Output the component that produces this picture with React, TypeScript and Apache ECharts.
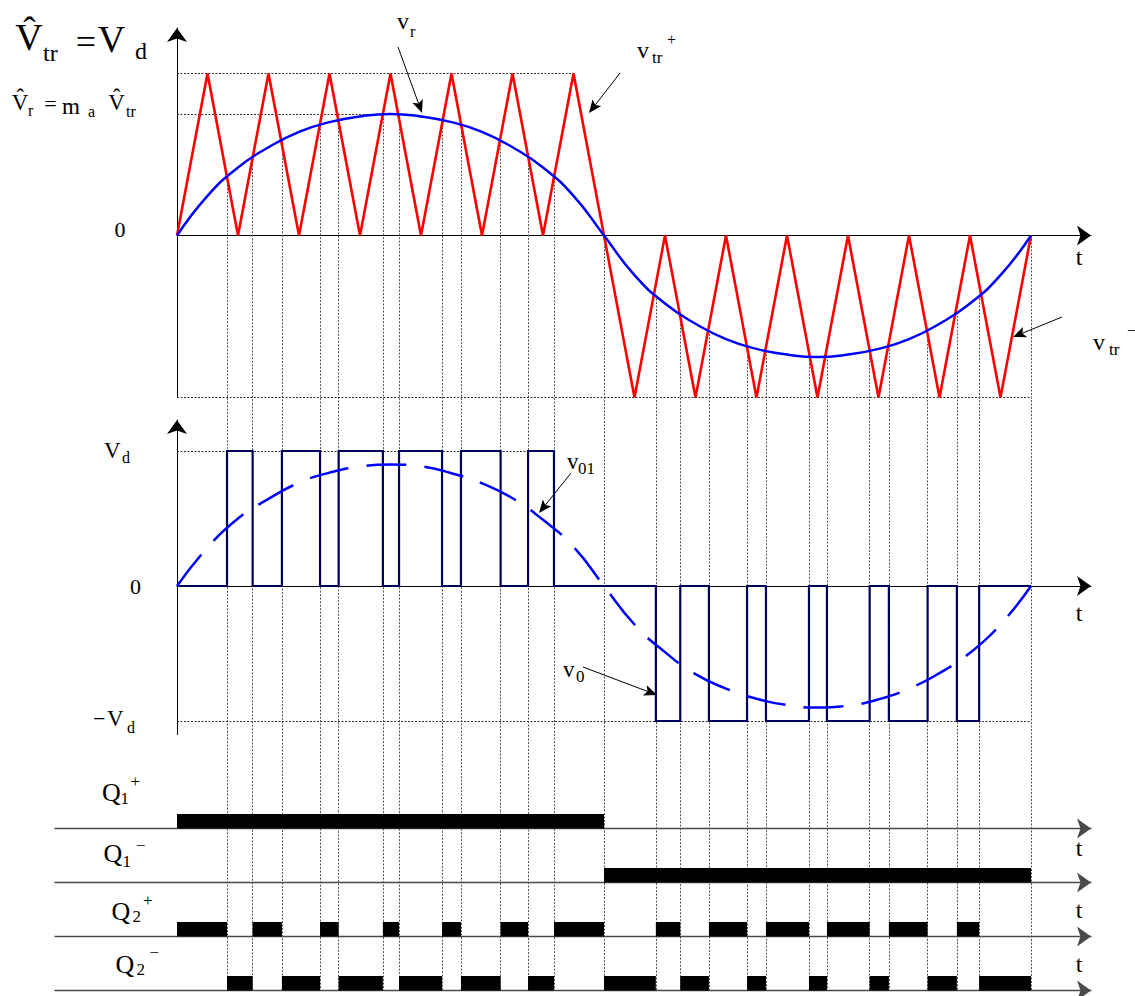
import React, { useEffect, useRef } from "react";
import * as echarts from "echarts";

// ---------------- data (time unit: one half carrier period) ----------------
const carrierT = [0,1,2,3,4,5,6,7,8,9,10,11,12,13,14,15,16,17,18,19,20,21,22,23,24,25,26,27,28];
const carrierV = [0,1,0,1,0,1,0,1,0,1,0,1,0,1,0,-1,0,-1,0,-1,0,-1,0,-1,0,-1,0,-1,0];

// reference (modulating) wave, read at each time step
const refT = [0,1,2,3,4,5,6,7,8,9,10,11,12,13,14,15,16,17,18,19,20,21,22,23,24,25,26,27,28];
const refV = [0,0.245,0.42,0.545,0.64,0.70,0.735,0.75,0.735,0.70,0.64,0.545,0.42,0.245,0,
  -0.245,-0.42,-0.545,-0.64,-0.70,-0.735,-0.75,-0.735,-0.70,-0.64,-0.545,-0.42,-0.245,0];

// fundamental of the output voltage (dashed), read at each time step
const fundT = [0,1,2,3,4,5,6,7,8,9,10,11,12,13,14,15,16,17,18,19,20,21,22,23,24,25,26,27,28];
const fundV = [0,0.285,0.5,0.645,0.765,0.84,0.885,0.9,0.886,0.835,0.76,0.65,0.49,0.29,0,
  -0.285,-0.49,-0.653,-0.76,-0.835,-0.882,-0.9,-0.886,-0.84,-0.76,-0.645,-0.495,-0.285,0];

const posPulses = [[1.64,2.48],[3.44,4.69],[5.3,6.75],[7.28,8.69],[9.31,10.61],[11.51,12.36]];
const negPulses = [[15.7,16.5],[17.44,18.69],[19.31,20.72],[21.31,22.71],[23.34,24.61],[25.57,26.3]];
const halfT = 14;
const periodT = 28;

// guide (dotted) levels: [level, end time]
const topGuides = [[1, 13], [0.75, 7], [-1, 28]];
const midGuides = [[1, 12.36], [-1, 28]];

// ---------------- layout ----------------
const PX_T = 30.5;
const X0 = 177;
const XL = 55;
const AXIS_END = 1091;
const XMAX = (AXIS_END - X0) / PX_T;
const XMIN_G = -(X0 - XL) / PX_T;
const TOP_PX = 162; // px per unit, top panel
const TOP = { top: 28, min: -1, max: (235.5 - 28) / TOP_PX };
const TOP_H = (TOP.max - TOP.min) * TOP_PX;
const MID_PX = 135;
const MID = { top: 420, min: -1.1, max: (586 - 420) / MID_PX };
const MID_H = (MID.max - MID.min) * MID_PX;
const GATE_BOTTOMS = [828.5, 882.5, 936.5, 990.5];
const GATE_H = 14.5;
const OVL_H = 990.5 - TOP.top;
const OVL_MIN = TOP.max - OVL_H / TOP_PX;

const SERIF = '"Liberation Serif", "Times New Roman", serif';

function valueAt(ts: number[], vs: number[], t: number) {
  for (let i = 0; i < ts.length - 1; i++) {
    if (t >= ts[i] && t <= ts[i + 1]) {
      const f = (t - ts[i]) / (ts[i + 1] - ts[i] || 1);
      return vs[i] + f * (vs[i + 1] - vs[i]);
    }
  }
  return 0;
}

function gaps(pulses: number[][], a: number, b: number) {
  const out: number[][] = [];
  let cur = a;
  pulses.forEach(([s, e]) => { out.push([cur, s]); cur = e; });
  out.push([cur, b]);
  return out;
}

function txt(text: string, x: number, y: number, size: number, align = "left") {
  return {
    type: "text", x, y, silent: true,
    style: {
      text, font: `${size}px ${SERIF}`, fill: "#000",
      textAlign: align, align, textVerticalAlign: "middle", verticalAlign: "middle",
    },
  };
}

function arrow(x1: number, y1: number, x2: number, y2: number) {
  const dx = x2 - x1, dy = y2 - y1;
  const L = Math.sqrt(dx * dx + dy * dy);
  const ux = dx / L, uy = dy / L;
  const len = 13, hw = 5.5;
  const bx = x2 - ux * len, by = y2 - uy * len;
  const nx = x2 - ux * len * 0.78, ny = y2 - uy * len * 0.78;
  return [
    { type: "line", silent: true, shape: { x1, y1, x2: nx, y2: ny }, style: { stroke: "#000", lineWidth: 1 } },
    {
      type: "polygon", silent: true,
      shape: { points: [[x2, y2], [bx - uy * hw, by + ux * hw], [nx, ny], [bx + uy * hw, by - ux * hw]] },
      style: { fill: "#000" },
    },
  ];
}

function buildOption() {
  const axisLine = (color: string, width: number) => ({
    show: true, onZero: true, symbol: ["none", "arrow"], symbolSize: [15, 14],
    lineStyle: { color, width },
  });
  const ax = (gridIndex: number, min: number, max: number, line: any) => ({
    type: "value", gridIndex, min, max, show: !!line,
    axisLine: line || { show: false }, axisTick: { show: false }, axisLabel: { show: false }, splitLine: { show: false },
  });

  const grid = [
    { left: X0, top: TOP.top, width: AXIS_END - X0, height: TOP_H },
    { left: X0, top: MID.top, width: AXIS_END - X0, height: MID_H },
    ...GATE_BOTTOMS.map((b) => ({ left: XL, top: b - GATE_H, width: AXIS_END - XL, height: GATE_H })),
    { left: X0, top: TOP.top, width: AXIS_END - X0, height: OVL_H },
  ];
  const xAxis = [
    ax(0, 0, XMAX, axisLine("#000", 1)),
    ax(1, 0, XMAX, axisLine("#000", 1)),
    ...GATE_BOTTOMS.map((_, i) => ax(2 + i, XMIN_G, XMAX, axisLine("#4a4a4a", 1.3))),
    ax(6, 0, XMAX, null),
  ];
  const yLine = { ...axisLine("#000", 1), onZero: false };
  const yAxis = [
    ax(0, TOP.min, TOP.max, yLine),
    ax(1, MID.min, MID.max, yLine),
    ...GATE_BOTTOMS.map((_, i) => ax(2 + i, 0, 1, null)),
    ax(6, OVL_MIN, TOP.max, null),
  ];

  const dotted = { color: "#333", width: 1, type: [2, 1.5] };

  // output voltage v0
  const v0: number[][] = [[0, 0]];
  posPulses.forEach(([a, b]) => v0.push([a, 0], [a, 1], [b, 1], [b, 0]));
  v0.push([halfT, 0]);
  negPulses.forEach(([a, b]) => v0.push([a, 0], [a, -1], [b, -1], [b, 0]));
  v0.push([periodT, 0]);

  // gate signals
  const gates = [
    [[0, halfT]],
    [[halfT, periodT]],
    [...gaps(posPulses, 0, halfT), ...negPulses],
    [...posPulses, ...gaps(negPulses, halfT, periodT)],
  ];

  const edges = [...posPulses.flat(), halfT, ...negPulses.flat(), periodT];

  const series: any[] = [
    {
      type: "lines", coordinateSystem: "cartesian2d", xAxisIndex: 6, yAxisIndex: 6, z: 1, silent: true,
      lineStyle: { color: "#555", width: 1, type: [2, 1.5], opacity: 1 },
      data: edges.map((t) => ({ coords: [[t, valueAt(refT, refV, t)], [t, OVL_MIN]] })),
    },
    {
      type: "lines", coordinateSystem: "cartesian2d", xAxisIndex: 0, yAxisIndex: 0, z: 2, silent: true,
      lineStyle: { ...dotted, opacity: 1 },
      data: topGuides.map(([lv, e]) => ({ coords: [[0, lv], [e, lv]] })),
    },
    {
      type: "lines", coordinateSystem: "cartesian2d", xAxisIndex: 1, yAxisIndex: 1, z: 2, silent: true,
      lineStyle: { ...dotted, opacity: 1 },
      data: midGuides.map(([lv, e]) => ({ coords: [[0, lv], [e, lv]] })),
    },
    {
      type: "line", xAxisIndex: 0, yAxisIndex: 0, z: 3, symbol: "none", silent: true,
      lineStyle: { color: "#ff0000", width: 2.6, join: "miter", miterLimit: 4 },
      data: carrierT.map((t, i) => [t, carrierV[i]]),
    },
    {
      type: "line", xAxisIndex: 0, yAxisIndex: 0, z: 4, symbol: "none", silent: true, smooth: 0.5,
      lineStyle: { color: "#0000ff", width: 2.5 },
      data: refT.map((t, i) => [t, refV[i]]),
    },
    {
      type: "line", xAxisIndex: 1, yAxisIndex: 1, z: 4, symbol: "none", silent: true,
      lineStyle: { color: "#00005a", width: 2.2, join: "miter" },
      data: v0,
    },
    {
      type: "line", xAxisIndex: 1, yAxisIndex: 1, z: 5, symbol: "none", silent: true, smooth: 0.5,
      lineStyle: { color: "#0000ff", width: 2.5, type: [40, 18] },
      data: fundT.map((t, i) => [t, fundV[i]]),
    },
    ...gates.map((g, i) => ({
      type: "custom", xAxisIndex: 2 + i, yAxisIndex: 2 + i, z: 6, silent: true,
      encode: { x: [0, 1] },
      data: g,
      renderItem: (_p: any, api: any) => {
        const p0 = api.coord([api.value(0), 1]);
        const p1 = api.coord([api.value(1), 0]);
        return {
          type: "rect",
          shape: { x: p0[0], y: p0[1], width: p1[0] - p0[0], height: p1[1] - p0[1] },
          style: { fill: "#000" },
        };
      },
    })),
  ];

  const hatV = "V\u0302";
  const graphic: any[] = [
    // top equations
    txt(hatV, 29, 37, 38, "center"), txt("tr", 43, 53, 24),
    txt("=", 86, 42, 36, "center"), txt("V", 111.5, 39, 38, "center"), txt("d", 135, 51, 24),
    txt(hatV, 20, 102, 23, "center"), txt("r", 28, 110, 16),
    txt("=", 50.5, 103, 22, "center"), txt("m", 62, 106, 23), txt("a", 88, 111, 16),
    txt(hatV, 116.5, 102, 23, "center"), txt("tr", 126, 111, 16),
    txt("0", 120, 229, 22, "center"), txt("t", 1079, 257, 24, "center"),
    txt("v", 397, 21, 24), txt("r", 410, 31, 16),
    txt("v", 637, 50, 24), txt("tr", 652, 57, 17), txt("+", 667, 39, 16),
    txt("v", 1093, 342, 24), txt("tr", 1109, 349, 17), txt("\u2212", 1127, 330, 16),
    ...arrow(398, 47, 422, 113), ...arrow(620, 73, 589, 113), ...arrow(1062, 317, 1013, 337),
    // middle
    txt("V", 104, 450, 23), txt("d", 122, 457, 16), txt("0", 130, 586, 22),
    txt("\u2212", 93, 718, 22), txt("V", 107, 718, 23), txt("d", 127, 727, 16),
    txt("t", 1079, 613, 24, "center"),
    txt("v", 567, 461, 23), txt("01", 578, 468, 17), ...arrow(571, 473, 539, 513),
    txt("v", 563, 669, 23), txt("0", 576, 676, 17), ...arrow(583, 667, 657, 695),
    // gates
    txt("Q", 102, 792, 26), txt("1", 120.6, 798, 17), txt("+", 130.5, 781, 17),
    txt("Q", 103.6, 853, 26), txt("1", 122.6, 861, 17), txt("\u2212", 136, 845, 17),
    txt("Q", 111.5, 911, 26), txt("2", 132.5, 916, 17), txt("+", 143, 900, 17),
    txt("Q", 115.5, 964, 26), txt("2", 136.4, 969, 17), txt("\u2212", 149.5, 952, 17),
    txt("t", 1079, 848, 24, "center"), txt("t", 1079, 910, 24, "center"), txt("t", 1079, 964, 24, "center"),
  ];

  return { animation: false, backgroundColor: "#fff", grid, xAxis, yAxis, series, graphic };
}

export default function App() {
  const ref = useRef<HTMLDivElement>(null);
  useEffect(() => {
    document.body.style.margin = "0";
    document.body.style.overflow = "hidden";
    const chart = echarts.init(ref.current!, null, { renderer: "svg" });
    chart.setOption(buildOption() as any);
    return () => chart.dispose();
  }, []);
  return <div ref={ref} style={{ width: 1135, height: 996 }} />;
}
